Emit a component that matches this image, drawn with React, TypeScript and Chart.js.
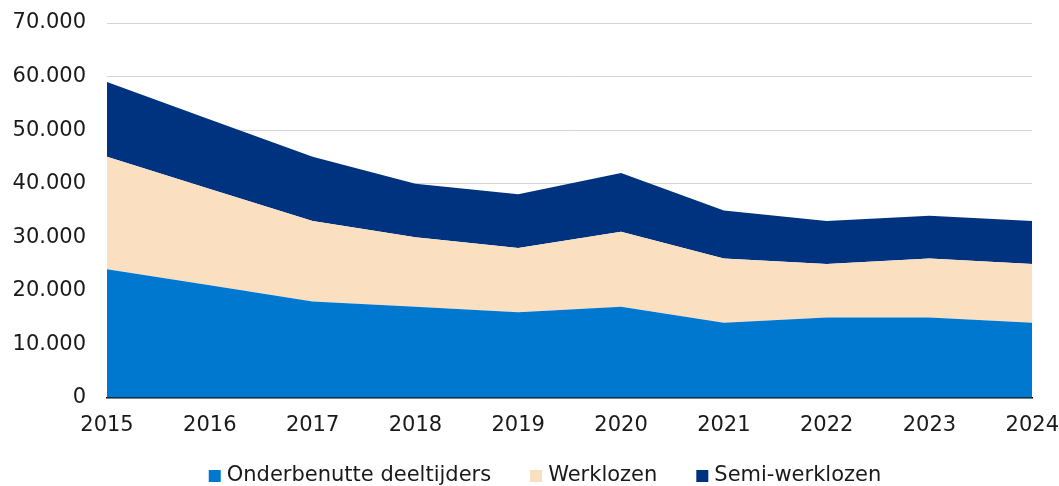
import React, { useEffect, useRef } from "react";
import { Chart, registerables } from "chart.js";

Chart.register(...registerables);

const years = ["2015", "2016", "2017", "2018", "2019", "2020", "2021", "2022", "2023", "2024"];
const onderbenutte = [24000, 21000, 18000, 17000, 16000, 17000, 14000, 15000, 15000, 14000];
const werklozen = [21000, 18000, 15000, 13000, 12000, 14000, 12000, 10000, 11000, 11000];
const semiWerklozen = [14000, 13000, 12000, 10000, 10000, 11000, 9000, 8000, 8000, 8000];

const seriesNames = ["Onderbenutte deeltijders", "Werklozen", "Semi-werklozen"];
const seriesColors = ["#0078D0", "#FAE0C0", "#00337F"];

const FONT = 'Verdana, "DejaVu Sans", sans-serif';
const TEXT = "#1a1a1a";

function fmt(v: number): string {
  const s = Math.round(v).toString();
  return s.replace(/\B(?=(\d{3})+(?!\d))/g, ".");
}

const bottomLegend = {
  id: "bottomLegend",
  afterDraw(chart: any) {
    const ctx = chart.ctx as CanvasRenderingContext2D;
    ctx.save();
    ctx.font = `21px ${FONT}`;
    ctx.textBaseline = "middle";
    ctx.textAlign = "left";
    const box = 12;
    const boxGap = 6;
    const itemGap = 39;
    const widths = chart.data.datasets.map((d: any) => ctx.measureText(d.label).width);
    let total = 0;
    widths.forEach((w: number, i: number) => {
      total += box + boxGap + w + (i < widths.length - 1 ? itemGap : 0);
    });
    let x = 545 - total / 2;
    const y = chart.height - 10;
    chart.data.datasets.forEach((d: any, i: number) => {
      ctx.fillStyle = d.backgroundColor;
      ctx.fillRect(x, y - box / 2, box, box);
      x += box + boxGap;
      ctx.fillStyle = TEXT;
      ctx.fillText(d.label, x, y);
      x += widths[i] + itemGap;
    });
    ctx.restore();
  },
};

export default function App() {
  const ref = useRef<HTMLCanvasElement | null>(null);
  useEffect(() => {
    if (!ref.current) return;
    const values = [onderbenutte, werklozen, semiWerklozen];
    const chart = new Chart(ref.current, {
      type: "line",
      data: {
        labels: years,
        datasets: values.map((data, i) => ({
          label: seriesNames[i],
          data,
          backgroundColor: seriesColors[i],
          borderColor: seriesColors[i],
          borderWidth: 0,
          pointRadius: 0,
          fill: i === 0 ? "origin" : "-1",
          tension: 0,
        })),
      },
      options: {
        animation: false,
        responsive: true,
        maintainAspectRatio: false,
        layout: { padding: { top: 0, left: 0, right: 0, bottom: 48 } },
        plugins: {
          legend: { display: false },
          tooltip: { enabled: false },
        },
        scales: {
          x: {
            offset: false,
            grid: {
              display: true,
              drawOnChartArea: false,
              drawTicks: true,
              tickLength: 15,
              tickColor: "rgba(0,0,0,0)",
            },
            border: { display: true, color: "#000000", width: 1.5 },
            ticks: {
              color: TEXT,
              font: { family: FONT, size: 21 },
              padding: 0,
              maxRotation: 0,
              autoSkip: false,
            },
          },
          y: {
            stacked: true,
            min: 0,
            max: 70000,
            afterFit: (scale: any) => {
              scale.width = 107;
              scale.paddingTop = 23;
            },
            grid: { color: "#d4d4d4", drawTicks: false, lineWidth: 1 },
            border: { display: false },
            ticks: {
              stepSize: 10000,
              color: TEXT,
              font: { family: FONT, size: 21 },
              padding: 21,
              callback: (v: any) => fmt(Number(v)),
            },
          },
        },
      },
      plugins: [bottomLegend],
    });
    return () => chart.destroy();
  }, []);
  return (
    <div style={{ position: "fixed", left: 0, top: 0, width: 1059, height: 486 }}>
      <canvas ref={ref} />
    </div>
  );
}
